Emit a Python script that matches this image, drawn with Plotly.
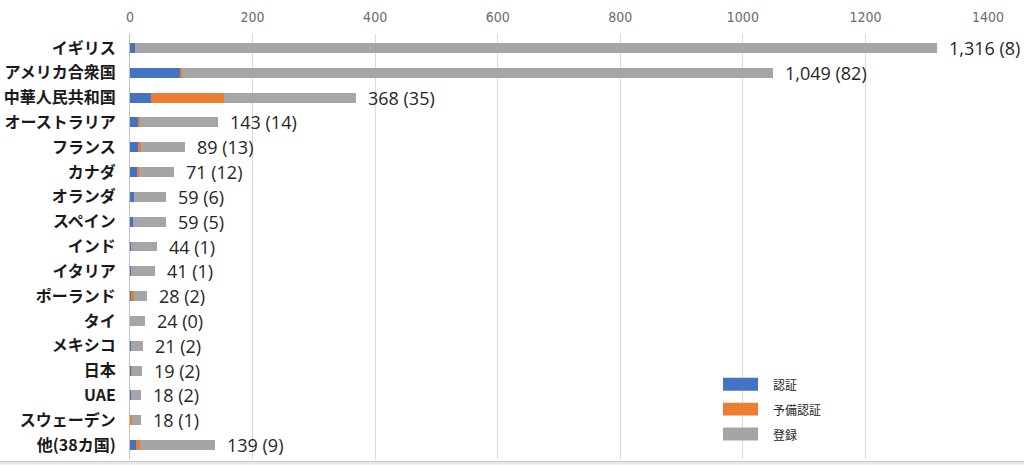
import plotly.graph_objects as go

countries = ["イギリス", "アメリカ合衆国", "中華人民共和国", "オーストラリア", "フランス", "カナダ",
             "オランダ", "スペイン", "インド", "イタリア", "ポーランド", "タイ", "メキシコ", "日本",
             "UAE", "スウェーデン", "他(38カ国)"]
totals = [1316, 1049, 368, 143, 89, 71, 59, 59, 44, 41, 28, 24, 21, 19, 18, 18, 139]
certified = [8, 82, 35, 14, 13, 12, 6, 5, 1, 1, 2, 0, 2, 2, 2, 1, 9]
pre_certified = [0, 3, 118, 2, 5, 2, 0, 0, 0, 0, 4, 0, 0, 2, 0, 2, 8]
registered = [t - c - p for t, c, p in zip(totals, certified, pre_certified)]
total_labels = [f"{t:,} ({c})" for t, c in zip(totals, certified)]

series_names = ["認証", "予備認証", "登録"]
colors = ["#4472C4", "#ED7D31", "#A5A5A5"]

W, H = 1024, 465
L, R, T, B = 130, 36, 33.5, 5.5
pw, ph = W - L - R, H - T - B


def px_x(x):
    return (x - L) / pw


def px_y(y):
    return (H - B - y) / ph


fig = go.Figure()
for name, vals, col in zip(series_names, [certified, pre_certified, registered], colors):
    fig.add_trace(go.Bar(y=countries, x=vals, name=name, orientation="h",
                         marker=dict(color=col, line=dict(width=0)), showlegend=False,
                         hoverinfo="x+name"))

annotations = []
for c, t, lab in zip(countries, totals, total_labels):
    annotations.append(dict(x=t, y=c, xref="x", yref="y", text=lab, showarrow=False,
                            xanchor="left", yanchor="middle", xshift=10,
                            font=dict(family="Open Sans, Noto Sans", size=18, color="#262626")))

shapes = []
# legend background
shapes.append(dict(type="rect", xref="paper", yref="paper", x0=px_x(700), x1=px_x(850),
                   y0=px_y(446), y1=px_y(373), fillcolor="white", line=dict(width=0), layer="below"))
leg_y = [384.5, 409.5, 434.5]
for name, col, yc in zip(series_names, colors, leg_y):
    shapes.append(dict(type="rect", xref="paper", yref="paper", x0=px_x(723), x1=px_x(758),
                       y0=px_y(yc + 6.5), y1=px_y(yc - 6.5), fillcolor=col, line=dict(width=0)))
    annotations.append(dict(x=px_x(771), y=px_y(yc), xref="paper", yref="paper", text=name,
                            showarrow=False, xanchor="left", yanchor="middle",
                            font=dict(family="Noto Sans CJK JP", size=12, color="#262626")))
# bottom border
shapes.append(dict(type="rect", xref="paper", yref="paper", x0=-L / pw, x1=(W - L) / pw,
                   y0=px_y(465), y1=px_y(462), fillcolor="#E6E6E6", line=dict(width=0)))
shapes.append(dict(type="line", xref="paper", yref="paper", x0=-L / pw, x1=(W - L) / pw,
                   y0=px_y(462), y1=px_y(462), line=dict(color="#C8C8C8", width=1)))

fig.update_layout(
    width=W, height=H, barmode="stack", bargap=0.6,
    margin=dict(l=L, r=R, t=T, b=B, autoexpand=False),
    paper_bgcolor="white", plot_bgcolor="white",
    annotations=annotations, shapes=shapes,
    xaxis=dict(side="top", range=[0, 1400], dtick=200, tickformat="d",
               showgrid=True, gridcolor="#D9D9D9", gridwidth=1, zeroline=False,
               showline=False, ticks="", ticklabelstandoff=8,
               tickfont=dict(family="DejaVu Sans Condensed, Liberation Sans Narrow, Open Sans", size=14, color="#6b6b6b")),
    yaxis=dict(autorange="reversed", showgrid=False, zeroline=False, showline=True,
               linecolor="#BFBFBF", linewidth=1, ticks="", ticklabelstandoff=10,
               tickfont=dict(family="Noto Sans CJK JP", size=16, color="#1a1a1a", weight="bold")),
)

fig.write_html("out.html")
